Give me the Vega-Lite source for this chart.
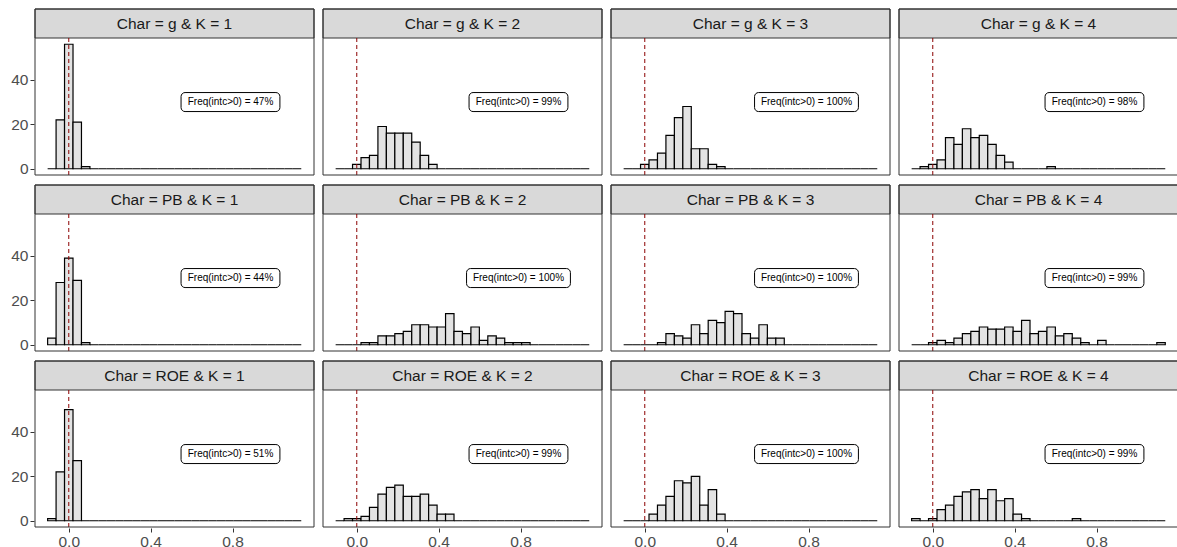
{
"$schema": "https://vega.github.io/schema/vega-lite/v6.json",
"padding": {"left": 10, "top": 8, "right": 0, "bottom": 0},
"data": {"name": "main"},
"transform": [
  {"lookup": "bin", "from": {"data": {"name": "bins"}, "key": "bin", "fields": ["lo", "hi"]}}
],
"datasets": {
"bins": [
{"bin":-2,"lo":-0.1033,"hi":-0.062},{"bin":-1,"lo":-0.062,"hi":-0.0207},{"bin":0,"lo":-0.0207,"hi":0.0207},{"bin":1,"lo":0.0207,"hi":0.062},{"bin":2,"lo":0.062,"hi":0.1033},{"bin":3,"lo":0.1033,"hi":0.1446},{"bin":4,"lo":0.1446,"hi":0.1859},{"bin":5,"lo":0.1859,"hi":0.2272},{"bin":6,"lo":0.2272,"hi":0.2685},{"bin":7,"lo":0.2685,"hi":0.3098},{"bin":8,"lo":0.3098,"hi":0.3511},{"bin":9,"lo":0.3511,"hi":0.3924},{"bin":10,"lo":0.3924,"hi":0.4337},{"bin":11,"lo":0.4337,"hi":0.475},{"bin":12,"lo":0.475,"hi":0.5163},{"bin":13,"lo":0.5163,"hi":0.5576},{"bin":14,"lo":0.5576,"hi":0.5989},{"bin":15,"lo":0.5989,"hi":0.6402},{"bin":16,"lo":0.6402,"hi":0.6815},{"bin":17,"lo":0.6815,"hi":0.7228},{"bin":18,"lo":0.7228,"hi":0.7641},{"bin":19,"lo":0.7641,"hi":0.8054},{"bin":20,"lo":0.8054,"hi":0.8467},{"bin":21,"lo":0.8467,"hi":0.888},{"bin":22,"lo":0.888,"hi":0.9293},{"bin":23,"lo":0.9293,"hi":0.9706},{"bin":24,"lo":0.9706,"hi":1.0119},{"bin":25,"lo":1.0119,"hi":1.0532},{"bin":26,"lo":1.0532,"hi":1.0945},{"bin":27,"lo":1.0945,"hi":1.1358}
],
"main": [
{"Char":"g","K":1,"title":"Char = g & K = 1","lab":"Freq(intc>0) = 47%","pct":47},
{"Char":"g","K":2,"title":"Char = g & K = 2","lab":"Freq(intc>0) = 99%","pct":99},
{"Char":"g","K":3,"title":"Char = g & K = 3","lab":"Freq(intc>0) = 100%","pct":100},
{"Char":"g","K":4,"title":"Char = g & K = 4","lab":"Freq(intc>0) = 98%","pct":98},
{"Char":"PB","K":1,"title":"Char = PB & K = 1","lab":"Freq(intc>0) = 44%","pct":44},
{"Char":"PB","K":2,"title":"Char = PB & K = 2","lab":"Freq(intc>0) = 100%","pct":100},
{"Char":"PB","K":3,"title":"Char = PB & K = 3","lab":"Freq(intc>0) = 100%","pct":100},
{"Char":"PB","K":4,"title":"Char = PB & K = 4","lab":"Freq(intc>0) = 99%","pct":99},
{"Char":"ROE","K":1,"title":"Char = ROE & K = 1","lab":"Freq(intc>0) = 51%","pct":51},
{"Char":"ROE","K":2,"title":"Char = ROE & K = 2","lab":"Freq(intc>0) = 99%","pct":99},
{"Char":"ROE","K":3,"title":"Char = ROE & K = 3","lab":"Freq(intc>0) = 100%","pct":100},
{"Char":"ROE","K":4,"title":"Char = ROE & K = 4","lab":"Freq(intc>0) = 99%","pct":99},

{"Char":"g","K":1,"bin":-2,"n":0},{"Char":"g","K":1,"bin":-1,"n":22},{"Char":"g","K":1,"bin":0,"n":56},{"Char":"g","K":1,"bin":1,"n":21},{"Char":"g","K":1,"bin":2,"n":1},{"Char":"g","K":1,"bin":3,"n":0},{"Char":"g","K":1,"bin":4,"n":0},{"Char":"g","K":1,"bin":5,"n":0},{"Char":"g","K":1,"bin":6,"n":0},{"Char":"g","K":1,"bin":7,"n":0},{"Char":"g","K":1,"bin":8,"n":0},{"Char":"g","K":1,"bin":9,"n":0},{"Char":"g","K":1,"bin":10,"n":0},{"Char":"g","K":1,"bin":11,"n":0},{"Char":"g","K":1,"bin":12,"n":0},{"Char":"g","K":1,"bin":13,"n":0},{"Char":"g","K":1,"bin":14,"n":0},{"Char":"g","K":1,"bin":15,"n":0},{"Char":"g","K":1,"bin":16,"n":0},{"Char":"g","K":1,"bin":17,"n":0},{"Char":"g","K":1,"bin":18,"n":0},{"Char":"g","K":1,"bin":19,"n":0},{"Char":"g","K":1,"bin":20,"n":0},{"Char":"g","K":1,"bin":21,"n":0},{"Char":"g","K":1,"bin":22,"n":0},{"Char":"g","K":1,"bin":23,"n":0},{"Char":"g","K":1,"bin":24,"n":0},{"Char":"g","K":1,"bin":25,"n":0},{"Char":"g","K":1,"bin":26,"n":0},{"Char":"g","K":1,"bin":27,"n":0},

{"Char":"g","K":2,"bin":-2,"n":0},{"Char":"g","K":2,"bin":-1,"n":0},{"Char":"g","K":2,"bin":0,"n":2},{"Char":"g","K":2,"bin":1,"n":5},{"Char":"g","K":2,"bin":2,"n":6},{"Char":"g","K":2,"bin":3,"n":19},{"Char":"g","K":2,"bin":4,"n":16},{"Char":"g","K":2,"bin":5,"n":16},{"Char":"g","K":2,"bin":6,"n":16},{"Char":"g","K":2,"bin":7,"n":12},{"Char":"g","K":2,"bin":8,"n":6},{"Char":"g","K":2,"bin":9,"n":2},{"Char":"g","K":2,"bin":10,"n":0},{"Char":"g","K":2,"bin":11,"n":0},{"Char":"g","K":2,"bin":12,"n":0},{"Char":"g","K":2,"bin":13,"n":0},{"Char":"g","K":2,"bin":14,"n":0},{"Char":"g","K":2,"bin":15,"n":0},{"Char":"g","K":2,"bin":16,"n":0},{"Char":"g","K":2,"bin":17,"n":0},{"Char":"g","K":2,"bin":18,"n":0},{"Char":"g","K":2,"bin":19,"n":0},{"Char":"g","K":2,"bin":20,"n":0},{"Char":"g","K":2,"bin":21,"n":0},{"Char":"g","K":2,"bin":22,"n":0},{"Char":"g","K":2,"bin":23,"n":0},{"Char":"g","K":2,"bin":24,"n":0},{"Char":"g","K":2,"bin":25,"n":0},{"Char":"g","K":2,"bin":26,"n":0},{"Char":"g","K":2,"bin":27,"n":0},

{"Char":"g","K":3,"bin":-2,"n":0},{"Char":"g","K":3,"bin":-1,"n":0},{"Char":"g","K":3,"bin":0,"n":2},{"Char":"g","K":3,"bin":1,"n":4},{"Char":"g","K":3,"bin":2,"n":7},{"Char":"g","K":3,"bin":3,"n":15},{"Char":"g","K":3,"bin":4,"n":23},{"Char":"g","K":3,"bin":5,"n":28},{"Char":"g","K":3,"bin":6,"n":9},{"Char":"g","K":3,"bin":7,"n":9},{"Char":"g","K":3,"bin":8,"n":2},{"Char":"g","K":3,"bin":9,"n":1},{"Char":"g","K":3,"bin":10,"n":0},{"Char":"g","K":3,"bin":11,"n":0},{"Char":"g","K":3,"bin":12,"n":0},{"Char":"g","K":3,"bin":13,"n":0},{"Char":"g","K":3,"bin":14,"n":0},{"Char":"g","K":3,"bin":15,"n":0},{"Char":"g","K":3,"bin":16,"n":0},{"Char":"g","K":3,"bin":17,"n":0},{"Char":"g","K":3,"bin":18,"n":0},{"Char":"g","K":3,"bin":19,"n":0},{"Char":"g","K":3,"bin":20,"n":0},{"Char":"g","K":3,"bin":21,"n":0},{"Char":"g","K":3,"bin":22,"n":0},{"Char":"g","K":3,"bin":23,"n":0},{"Char":"g","K":3,"bin":24,"n":0},{"Char":"g","K":3,"bin":25,"n":0},{"Char":"g","K":3,"bin":26,"n":0},{"Char":"g","K":3,"bin":27,"n":0},

{"Char":"g","K":4,"bin":-2,"n":0},{"Char":"g","K":4,"bin":-1,"n":1},{"Char":"g","K":4,"bin":0,"n":2},{"Char":"g","K":4,"bin":1,"n":4},{"Char":"g","K":4,"bin":2,"n":14},{"Char":"g","K":4,"bin":3,"n":11},{"Char":"g","K":4,"bin":4,"n":18},{"Char":"g","K":4,"bin":5,"n":14},{"Char":"g","K":4,"bin":6,"n":15},{"Char":"g","K":4,"bin":7,"n":11},{"Char":"g","K":4,"bin":8,"n":6},{"Char":"g","K":4,"bin":9,"n":3},{"Char":"g","K":4,"bin":10,"n":0},{"Char":"g","K":4,"bin":11,"n":0},{"Char":"g","K":4,"bin":12,"n":0},{"Char":"g","K":4,"bin":13,"n":0},{"Char":"g","K":4,"bin":14,"n":1},{"Char":"g","K":4,"bin":15,"n":0},{"Char":"g","K":4,"bin":16,"n":0},{"Char":"g","K":4,"bin":17,"n":0},{"Char":"g","K":4,"bin":18,"n":0},{"Char":"g","K":4,"bin":19,"n":0},{"Char":"g","K":4,"bin":20,"n":0},{"Char":"g","K":4,"bin":21,"n":0},{"Char":"g","K":4,"bin":22,"n":0},{"Char":"g","K":4,"bin":23,"n":0},{"Char":"g","K":4,"bin":24,"n":0},{"Char":"g","K":4,"bin":25,"n":0},{"Char":"g","K":4,"bin":26,"n":0},{"Char":"g","K":4,"bin":27,"n":0},

{"Char":"PB","K":1,"bin":-2,"n":3},{"Char":"PB","K":1,"bin":-1,"n":28},{"Char":"PB","K":1,"bin":0,"n":39},{"Char":"PB","K":1,"bin":1,"n":29},{"Char":"PB","K":1,"bin":2,"n":1},{"Char":"PB","K":1,"bin":3,"n":0},{"Char":"PB","K":1,"bin":4,"n":0},{"Char":"PB","K":1,"bin":5,"n":0},{"Char":"PB","K":1,"bin":6,"n":0},{"Char":"PB","K":1,"bin":7,"n":0},{"Char":"PB","K":1,"bin":8,"n":0},{"Char":"PB","K":1,"bin":9,"n":0},{"Char":"PB","K":1,"bin":10,"n":0},{"Char":"PB","K":1,"bin":11,"n":0},{"Char":"PB","K":1,"bin":12,"n":0},{"Char":"PB","K":1,"bin":13,"n":0},{"Char":"PB","K":1,"bin":14,"n":0},{"Char":"PB","K":1,"bin":15,"n":0},{"Char":"PB","K":1,"bin":16,"n":0},{"Char":"PB","K":1,"bin":17,"n":0},{"Char":"PB","K":1,"bin":18,"n":0},{"Char":"PB","K":1,"bin":19,"n":0},{"Char":"PB","K":1,"bin":20,"n":0},{"Char":"PB","K":1,"bin":21,"n":0},{"Char":"PB","K":1,"bin":22,"n":0},{"Char":"PB","K":1,"bin":23,"n":0},{"Char":"PB","K":1,"bin":24,"n":0},{"Char":"PB","K":1,"bin":25,"n":0},{"Char":"PB","K":1,"bin":26,"n":0},{"Char":"PB","K":1,"bin":27,"n":0},

{"Char":"PB","K":2,"bin":-2,"n":0},{"Char":"PB","K":2,"bin":-1,"n":0},{"Char":"PB","K":2,"bin":0,"n":0},{"Char":"PB","K":2,"bin":1,"n":1},{"Char":"PB","K":2,"bin":2,"n":1},{"Char":"PB","K":2,"bin":3,"n":4},{"Char":"PB","K":2,"bin":4,"n":4},{"Char":"PB","K":2,"bin":5,"n":5},{"Char":"PB","K":2,"bin":6,"n":6},{"Char":"PB","K":2,"bin":7,"n":9},{"Char":"PB","K":2,"bin":8,"n":9},{"Char":"PB","K":2,"bin":9,"n":8},{"Char":"PB","K":2,"bin":10,"n":8},{"Char":"PB","K":2,"bin":11,"n":14},{"Char":"PB","K":2,"bin":12,"n":6},{"Char":"PB","K":2,"bin":13,"n":5},{"Char":"PB","K":2,"bin":14,"n":8},{"Char":"PB","K":2,"bin":15,"n":2},{"Char":"PB","K":2,"bin":16,"n":4},{"Char":"PB","K":2,"bin":17,"n":3},{"Char":"PB","K":2,"bin":18,"n":1},{"Char":"PB","K":2,"bin":19,"n":1},{"Char":"PB","K":2,"bin":20,"n":1},{"Char":"PB","K":2,"bin":21,"n":0},{"Char":"PB","K":2,"bin":22,"n":0},{"Char":"PB","K":2,"bin":23,"n":0},{"Char":"PB","K":2,"bin":24,"n":0},{"Char":"PB","K":2,"bin":25,"n":0},{"Char":"PB","K":2,"bin":26,"n":0},{"Char":"PB","K":2,"bin":27,"n":0},

{"Char":"PB","K":3,"bin":-2,"n":0},{"Char":"PB","K":3,"bin":-1,"n":0},{"Char":"PB","K":3,"bin":0,"n":0},{"Char":"PB","K":3,"bin":1,"n":0},{"Char":"PB","K":3,"bin":2,"n":1},{"Char":"PB","K":3,"bin":3,"n":5},{"Char":"PB","K":3,"bin":4,"n":4},{"Char":"PB","K":3,"bin":5,"n":3},{"Char":"PB","K":3,"bin":6,"n":9},{"Char":"PB","K":3,"bin":7,"n":5},{"Char":"PB","K":3,"bin":8,"n":11},{"Char":"PB","K":3,"bin":9,"n":10},{"Char":"PB","K":3,"bin":10,"n":15},{"Char":"PB","K":3,"bin":11,"n":14},{"Char":"PB","K":3,"bin":12,"n":5},{"Char":"PB","K":3,"bin":13,"n":3},{"Char":"PB","K":3,"bin":14,"n":9},{"Char":"PB","K":3,"bin":15,"n":3},{"Char":"PB","K":3,"bin":16,"n":3},{"Char":"PB","K":3,"bin":17,"n":0},{"Char":"PB","K":3,"bin":18,"n":0},{"Char":"PB","K":3,"bin":19,"n":0},{"Char":"PB","K":3,"bin":20,"n":0},{"Char":"PB","K":3,"bin":21,"n":0},{"Char":"PB","K":3,"bin":22,"n":0},{"Char":"PB","K":3,"bin":23,"n":0},{"Char":"PB","K":3,"bin":24,"n":0},{"Char":"PB","K":3,"bin":25,"n":0},{"Char":"PB","K":3,"bin":26,"n":0},{"Char":"PB","K":3,"bin":27,"n":0},

{"Char":"PB","K":4,"bin":-2,"n":0},{"Char":"PB","K":4,"bin":-1,"n":0},{"Char":"PB","K":4,"bin":0,"n":1},{"Char":"PB","K":4,"bin":1,"n":2},{"Char":"PB","K":4,"bin":2,"n":1},{"Char":"PB","K":4,"bin":3,"n":3},{"Char":"PB","K":4,"bin":4,"n":5},{"Char":"PB","K":4,"bin":5,"n":6},{"Char":"PB","K":4,"bin":6,"n":8},{"Char":"PB","K":4,"bin":7,"n":7},{"Char":"PB","K":4,"bin":8,"n":7},{"Char":"PB","K":4,"bin":9,"n":8},{"Char":"PB","K":4,"bin":10,"n":6},{"Char":"PB","K":4,"bin":11,"n":11},{"Char":"PB","K":4,"bin":12,"n":5},{"Char":"PB","K":4,"bin":13,"n":6},{"Char":"PB","K":4,"bin":14,"n":8},{"Char":"PB","K":4,"bin":15,"n":4},{"Char":"PB","K":4,"bin":16,"n":5},{"Char":"PB","K":4,"bin":17,"n":3},{"Char":"PB","K":4,"bin":18,"n":1},{"Char":"PB","K":4,"bin":19,"n":0},{"Char":"PB","K":4,"bin":20,"n":2},{"Char":"PB","K":4,"bin":21,"n":0},{"Char":"PB","K":4,"bin":22,"n":0},{"Char":"PB","K":4,"bin":23,"n":0},{"Char":"PB","K":4,"bin":24,"n":0},{"Char":"PB","K":4,"bin":25,"n":0},{"Char":"PB","K":4,"bin":26,"n":0},{"Char":"PB","K":4,"bin":27,"n":1},

{"Char":"ROE","K":1,"bin":-2,"n":1},{"Char":"ROE","K":1,"bin":-1,"n":22},{"Char":"ROE","K":1,"bin":0,"n":50},{"Char":"ROE","K":1,"bin":1,"n":27},{"Char":"ROE","K":1,"bin":2,"n":0},{"Char":"ROE","K":1,"bin":3,"n":0},{"Char":"ROE","K":1,"bin":4,"n":0},{"Char":"ROE","K":1,"bin":5,"n":0},{"Char":"ROE","K":1,"bin":6,"n":0},{"Char":"ROE","K":1,"bin":7,"n":0},{"Char":"ROE","K":1,"bin":8,"n":0},{"Char":"ROE","K":1,"bin":9,"n":0},{"Char":"ROE","K":1,"bin":10,"n":0},{"Char":"ROE","K":1,"bin":11,"n":0},{"Char":"ROE","K":1,"bin":12,"n":0},{"Char":"ROE","K":1,"bin":13,"n":0},{"Char":"ROE","K":1,"bin":14,"n":0},{"Char":"ROE","K":1,"bin":15,"n":0},{"Char":"ROE","K":1,"bin":16,"n":0},{"Char":"ROE","K":1,"bin":17,"n":0},{"Char":"ROE","K":1,"bin":18,"n":0},{"Char":"ROE","K":1,"bin":19,"n":0},{"Char":"ROE","K":1,"bin":20,"n":0},{"Char":"ROE","K":1,"bin":21,"n":0},{"Char":"ROE","K":1,"bin":22,"n":0},{"Char":"ROE","K":1,"bin":23,"n":0},{"Char":"ROE","K":1,"bin":24,"n":0},{"Char":"ROE","K":1,"bin":25,"n":0},{"Char":"ROE","K":1,"bin":26,"n":0},{"Char":"ROE","K":1,"bin":27,"n":0},

{"Char":"ROE","K":2,"bin":-2,"n":0},{"Char":"ROE","K":2,"bin":-1,"n":1},{"Char":"ROE","K":2,"bin":0,"n":1},{"Char":"ROE","K":2,"bin":1,"n":2},{"Char":"ROE","K":2,"bin":2,"n":6},{"Char":"ROE","K":2,"bin":3,"n":12},{"Char":"ROE","K":2,"bin":4,"n":15},{"Char":"ROE","K":2,"bin":5,"n":16},{"Char":"ROE","K":2,"bin":6,"n":11},{"Char":"ROE","K":2,"bin":7,"n":11},{"Char":"ROE","K":2,"bin":8,"n":12},{"Char":"ROE","K":2,"bin":9,"n":7},{"Char":"ROE","K":2,"bin":10,"n":3},{"Char":"ROE","K":2,"bin":11,"n":3},{"Char":"ROE","K":2,"bin":12,"n":0},{"Char":"ROE","K":2,"bin":13,"n":0},{"Char":"ROE","K":2,"bin":14,"n":0},{"Char":"ROE","K":2,"bin":15,"n":0},{"Char":"ROE","K":2,"bin":16,"n":0},{"Char":"ROE","K":2,"bin":17,"n":0},{"Char":"ROE","K":2,"bin":18,"n":0},{"Char":"ROE","K":2,"bin":19,"n":0},{"Char":"ROE","K":2,"bin":20,"n":0},{"Char":"ROE","K":2,"bin":21,"n":0},{"Char":"ROE","K":2,"bin":22,"n":0},{"Char":"ROE","K":2,"bin":23,"n":0},{"Char":"ROE","K":2,"bin":24,"n":0},{"Char":"ROE","K":2,"bin":25,"n":0},{"Char":"ROE","K":2,"bin":26,"n":0},{"Char":"ROE","K":2,"bin":27,"n":0},

{"Char":"ROE","K":3,"bin":-2,"n":0},{"Char":"ROE","K":3,"bin":-1,"n":0},{"Char":"ROE","K":3,"bin":0,"n":0},{"Char":"ROE","K":3,"bin":1,"n":3},{"Char":"ROE","K":3,"bin":2,"n":7},{"Char":"ROE","K":3,"bin":3,"n":11},{"Char":"ROE","K":3,"bin":4,"n":18},{"Char":"ROE","K":3,"bin":5,"n":17},{"Char":"ROE","K":3,"bin":6,"n":20},{"Char":"ROE","K":3,"bin":7,"n":7},{"Char":"ROE","K":3,"bin":8,"n":14},{"Char":"ROE","K":3,"bin":9,"n":3},{"Char":"ROE","K":3,"bin":10,"n":0},{"Char":"ROE","K":3,"bin":11,"n":0},{"Char":"ROE","K":3,"bin":12,"n":0},{"Char":"ROE","K":3,"bin":13,"n":0},{"Char":"ROE","K":3,"bin":14,"n":0},{"Char":"ROE","K":3,"bin":15,"n":0},{"Char":"ROE","K":3,"bin":16,"n":0},{"Char":"ROE","K":3,"bin":17,"n":0},{"Char":"ROE","K":3,"bin":18,"n":0},{"Char":"ROE","K":3,"bin":19,"n":0},{"Char":"ROE","K":3,"bin":20,"n":0},{"Char":"ROE","K":3,"bin":21,"n":0},{"Char":"ROE","K":3,"bin":22,"n":0},{"Char":"ROE","K":3,"bin":23,"n":0},{"Char":"ROE","K":3,"bin":24,"n":0},{"Char":"ROE","K":3,"bin":25,"n":0},{"Char":"ROE","K":3,"bin":26,"n":0},{"Char":"ROE","K":3,"bin":27,"n":0},

{"Char":"ROE","K":4,"bin":-2,"n":1},{"Char":"ROE","K":4,"bin":-1,"n":0},{"Char":"ROE","K":4,"bin":0,"n":1},{"Char":"ROE","K":4,"bin":1,"n":5},{"Char":"ROE","K":4,"bin":2,"n":7},{"Char":"ROE","K":4,"bin":3,"n":11},{"Char":"ROE","K":4,"bin":4,"n":13},{"Char":"ROE","K":4,"bin":5,"n":14},{"Char":"ROE","K":4,"bin":6,"n":10},{"Char":"ROE","K":4,"bin":7,"n":14},{"Char":"ROE","K":4,"bin":8,"n":9},{"Char":"ROE","K":4,"bin":9,"n":10},{"Char":"ROE","K":4,"bin":10,"n":3},{"Char":"ROE","K":4,"bin":11,"n":1},{"Char":"ROE","K":4,"bin":12,"n":0},{"Char":"ROE","K":4,"bin":13,"n":0},{"Char":"ROE","K":4,"bin":14,"n":0},{"Char":"ROE","K":4,"bin":15,"n":0},{"Char":"ROE","K":4,"bin":16,"n":0},{"Char":"ROE","K":4,"bin":17,"n":1},{"Char":"ROE","K":4,"bin":18,"n":0},{"Char":"ROE","K":4,"bin":19,"n":0},{"Char":"ROE","K":4,"bin":20,"n":0},{"Char":"ROE","K":4,"bin":21,"n":0},{"Char":"ROE","K":4,"bin":22,"n":0},{"Char":"ROE","K":4,"bin":23,"n":0},{"Char":"ROE","K":4,"bin":24,"n":0},{"Char":"ROE","K":4,"bin":25,"n":0},{"Char":"ROE","K":4,"bin":26,"n":0},{"Char":"ROE","K":4,"bin":27,"n":0}
]
},
"facet": {
  "row": {"field": "Char", "type": "nominal", "sort": ["g", "PB", "ROE"], "header": {"labels": false, "title": null, "labelPadding": 0, "titlePadding": 0}},
  "column": {"field": "K", "type": "ordinal", "header": {"labels": false, "title": null, "labelPadding": 0, "titlePadding": 0}}
},
"spacing": {"row": 8, "column": 7},
"spec": {
  "width": 279,
  "height": 166,
  "encoding": {
    "x": {"type": "quantitative", "scale": {"domain": [-0.165, 1.198], "nice": false, "zero": false}, "axis": {"values": [0, 0.4, 0.8], "format": ".1f", "title": null}},
    "y": {"type": "quantitative", "scale": {"domain": [-2.8, 71.84], "nice": false, "zero": false}, "axis": {"values": [0, 20, 40], "title": null}}
  },
  "layer": [
    {
      "transform": [{"filter": "datum.lab != null"}],
      "mark": {"type": "rect", "fill": "#D9D9D9", "stroke": "#333333", "strokeWidth": 1},
      "encoding": {"x": {"datum": -0.165}, "x2": {"datum": 1.198}, "y": {"datum": 58.8}, "y2": {"datum": 71.84}}
    },
    {
      "transform": [{"filter": "datum.lab != null"}],
      "mark": {"type": "text", "fontSize": 15.5, "color": "#1A1A1A", "align": "center", "baseline": "middle"},
      "encoding": {"x": {"datum": 0.5165}, "y": {"datum": 65.32}, "text": {"field": "title"}}
    },
    {
      "transform": [{"filter": "datum.n != null"}],
      "mark": {"type": "rect", "fill": "#E3E3E3", "stroke": "#000000", "strokeWidth": 1.2},
      "encoding": {"x": {"field": "lo"}, "x2": {"field": "hi"}, "y": {"field": "n"}, "y2": {"datum": 0}}
    },
    {
      "transform": [{"filter": "datum.lab != null"}],
      "mark": {"type": "rule", "stroke": "#8B0000", "strokeWidth": 1, "strokeDash": [4, 3]},
      "encoding": {"x": {"datum": 0}, "y": {"datum": -2.8}, "y2": {"datum": 58.8}}
    },
    {
      "transform": [{"filter": "datum.lab != null && datum.pct < 100"}],
      "mark": {"type": "rect", "fill": "#FFFFFF", "stroke": "#000000", "strokeWidth": 1, "cornerRadius": 4},
      "encoding": {"x": {"datum": 0.5485}, "x2": {"datum": 1.0315}, "y": {"datum": 25.73}, "y2": {"datum": 34.27}}
    },
    {
      "transform": [{"filter": "datum.lab != null && datum.pct >= 100"}],
      "mark": {"type": "rect", "fill": "#FFFFFF", "stroke": "#000000", "strokeWidth": 1, "cornerRadius": 4},
      "encoding": {"x": {"datum": 0.5363}, "x2": {"datum": 1.0437}, "y": {"datum": 25.73}, "y2": {"datum": 34.27}}
    },
    {
      "transform": [{"filter": "datum.lab != null"}],
      "mark": {"type": "text", "fontSize": 10, "color": "#000000", "align": "center", "baseline": "middle"},
      "encoding": {"x": {"datum": 0.79}, "y": {"datum": 30}, "text": {"field": "lab"}}
    },
    {
      "transform": [{"filter": "datum.lab != null"}],
      "mark": {"type": "rect", "fill": null, "fillOpacity": 0, "stroke": "#333333", "strokeWidth": 1},
      "encoding": {"x": {"datum": -0.165}, "x2": {"datum": 1.198}, "y": {"datum": -2.8}, "y2": {"datum": 71.84}}
    }
  ]
},
"config": {
  "font": "Liberation Sans",
  "view": {"stroke": null},
  "axis": {"grid": false, "domain": false, "tickColor": "#333333", "tickSize": 4, "tickWidth": 1, "labelFontSize": 15.5, "labelColor": "#4D4D4D", "labelPadding": 2, "labelFont": "Liberation Sans"}
}
}
